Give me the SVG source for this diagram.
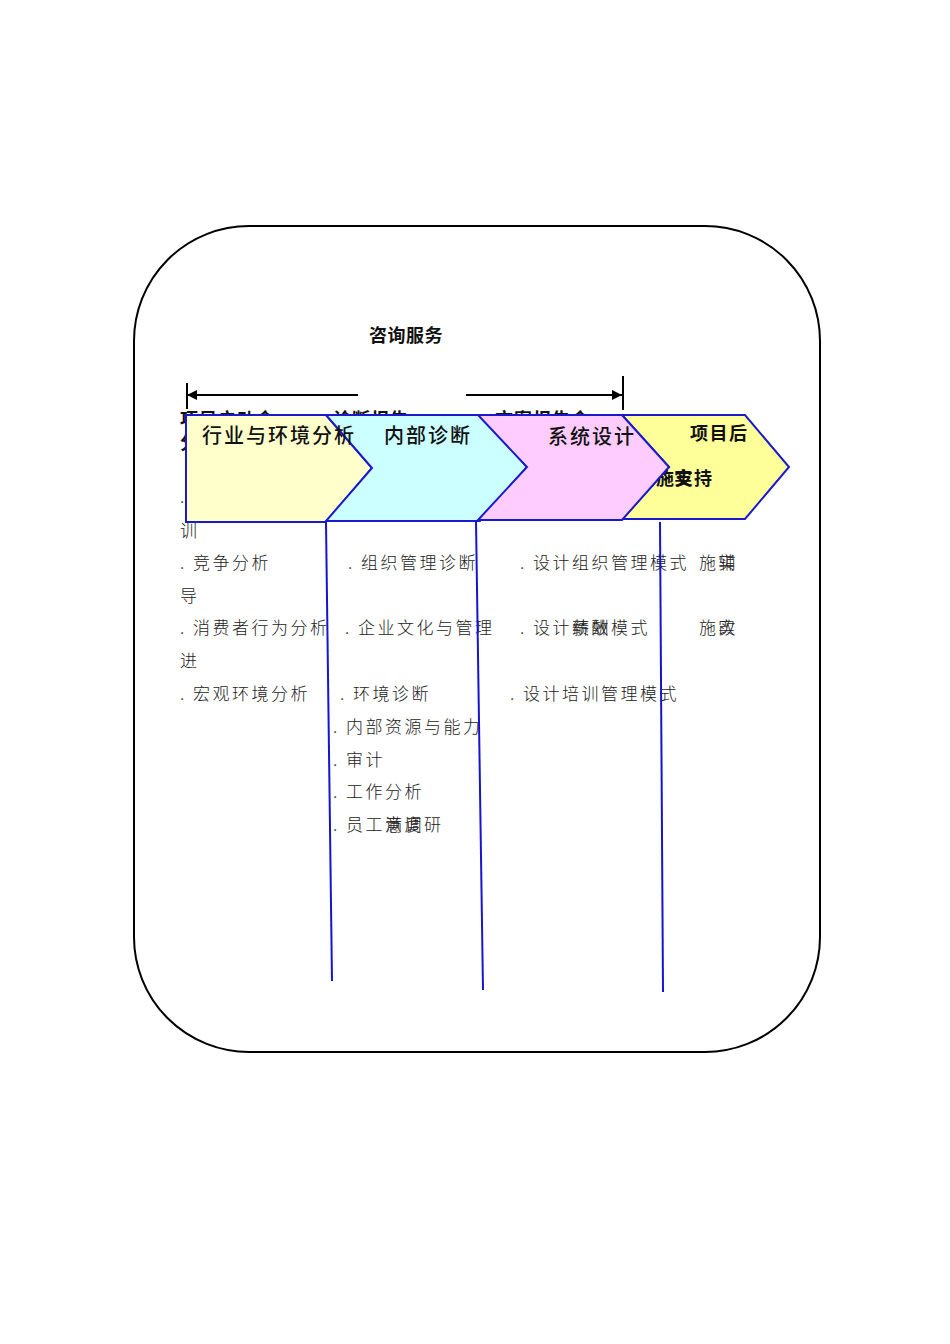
<svg xmlns="http://www.w3.org/2000/svg" width="950" height="1344" viewBox="0 0 950 1344">
<style>
.body{font-family:"Noto Sans CJK SC","Liberation Sans",sans-serif;font-size:17px;letter-spacing:2.5px;fill:#222;font-weight:300}
.lab{font-family:"Noto Sans CJK SC","Liberation Sans",sans-serif;font-size:20px;letter-spacing:2px;fill:#111;font-weight:500}
.hid{font-family:"Noto Sans CJK SC","Liberation Sans",sans-serif;font-size:18px;letter-spacing:1px;fill:#111;font-weight:bold}
.chev{stroke:#1a1acc;stroke-width:2;stroke-linejoin:miter}
.vl{stroke:#1515d0;stroke-width:2;fill:none}
.ar{stroke:#000;stroke-width:2;fill:none}
</style>
<defs>
<marker id="ah" viewBox="0 0 10 10" refX="10" refY="5" markerWidth="5" markerHeight="5" orient="auto-start-reverse" markerUnits="strokeWidth">
<path d="M0,0 L10,5 L0,10 z" fill="#000"/>
</marker>
</defs>
<rect x="0" y="0" width="950" height="1344" fill="#fff"/>
<rect id="frame" x="134" y="226" width="686" height="826" rx="115" ry="115" fill="none" stroke="#000" stroke-width="2"/>
<text id="title" x="369" y="342" class="hid" style="letter-spacing:0.5px">咨询服务</text>
<g id="timeline">
<line class="ar" x1="358" y1="395" x2="187" y2="395" marker-end="url(#ah)"/>
<line class="ar" x1="187" y1="383" x2="187" y2="409"/>
<line class="ar" x1="466" y1="395" x2="622" y2="395" marker-end="url(#ah)"/>
<line class="ar" x1="623" y1="376" x2="623" y2="410"/>
</g>
<g id="hidden-labels">
<text class="hid" x="180" y="426">项目启动会</text>
<text class="hid" x="180" y="449">分</text>
<text class="hid" x="333" y="426">诊断报告</text>
<text class="hid" x="495" y="426">方案报告会</text>
</g>
<g id="col1">
<text class="body" x="180" y="503">.</text>
<text class="body" x="180" y="537">训</text>
<text class="body" x="180" y="569">. 竞争分析</text>
<text class="body" x="180" y="602">导</text>
<text class="body" x="180" y="634">. 消费者行为分析</text>
<text class="body" x="180" y="667">进</text>
<text class="body" x="180" y="700">. 宏观环境分析</text>
</g>
<g id="col2">
<text class="body" x="348" y="569">. 组织管理诊断</text>
<text class="body" x="345" y="634">. 企业文化与管理</text>
<text class="body" x="340" y="700">. 环境诊断</text>
<text class="body" x="333" y="733">. 内部资源与能力</text>
<text class="body" x="333" y="766">. 审计</text>
<text class="body" x="333" y="798">. 工作分析</text>
<text class="body" x="333" y="831">. 员工满调研</text>
<text class="body" x="385" y="831">意度</text>
</g>
<g id="col3">
<text class="body" x="520" y="569">. 设计组织管理模式</text>
<text class="body" x="520" y="634">. 设计绩效模式</text>
<text class="body" x="572" y="634">薪酬</text>
<text class="body" x="510" y="700">. 设计培训管理模式</text>
</g>
<g id="col4">
<text class="body" x="699" y="569">施辅</text>
<text class="body" x="718" y="569">实</text>
<text class="body" x="699" y="634">施改</text>
<text class="body" x="718" y="634">实</text>
</g>
<g id="stage4">
<polygon class="chev" fill="#ffff99" points="622,415 745,415 789,467 745,519 622,519 669,467"/>
<text class="hid" x="690" y="440" style="letter-spacing:1.5px">项目后</text>
<text class="hid" x="637" y="485" style="letter-spacing:1px">实施支持</text>
<text class="hid" x="674" y="485">实</text>
</g>
<g id="stage1">
<polygon class="chev" fill="#ffffcc" points="186,415 326,415 372,468 326,522 186,522"/>
</g>
<g id="stage2">
<polygon class="chev" fill="#ccffff" points="326,415 480,415 527,467 480,521 326,521 372,468"/>
</g>
<g id="stage3">
<polygon class="chev" fill="#ffccff" points="478,415 622,415 669,467 622,520 478,520 527,467"/>
</g>
<g id="stage-labels">
<text class="lab" x="202" y="443">行业与环境分析</text>
<text class="lab" x="384" y="443">内部诊断</text>
<text class="lab" x="548" y="444">系统设计</text>
</g>
<g id="connectors">
<line class="vl" x1="326" y1="522" x2="332" y2="981"/>
<line class="vl" x1="476" y1="521" x2="483" y2="990"/>
<line class="vl" x1="660" y1="522" x2="663" y2="992"/>
</g>
</svg>
